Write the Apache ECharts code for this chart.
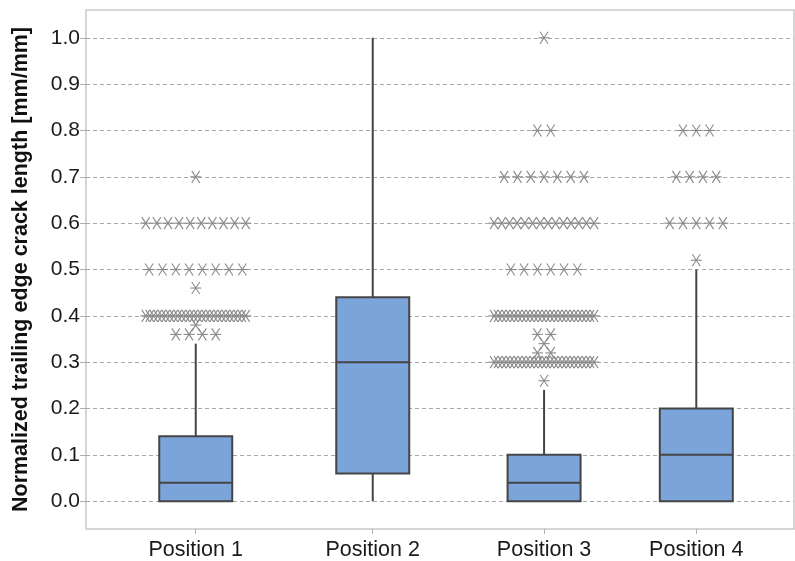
<!DOCTYPE html>
<html>
<head>
<meta charset="utf-8">
<script src="https://cdn.jsdelivr.net/npm/echarts@6/dist/echarts.min.js"></script>
<style>
  html, body { margin: 0; padding: 0; background: #ffffff; }
  #chart { width: 795px; height: 561px; }
</style>
</head>
<body>
<div id="chart"></div>
<script>
// ---- data ----
const categories = ['Position 1', 'Position 2', 'Position 3', 'Position 4'];
const whiskerLow  = [0.00, 0.00, 0.00, 0.00];
const quartile1   = [0.00, 0.06, 0.00, 0.00];
const medians     = [0.04, 0.30, 0.04, 0.10];
const quartile3   = [0.14, 0.44, 0.10, 0.20];
const whiskerHigh = [0.34, 1.00, 0.24, 0.50];

// outliers per position: [value, number of observations at that value]
const outliers1 = [[0.70, 1], [0.60, 10], [0.50, 8], [0.46, 1], [0.40, 26], [0.38, 1], [0.36, 4]];
const outliers2 = [];
const outliers3 = [[1.00, 1], [0.80, 2], [0.70, 7], [0.60, 14], [0.50, 6], [0.40, 26],
                   [0.36, 2], [0.34, 1], [0.32, 2], [0.30, 26], [0.26, 1]];
const outliers4 = [[0.80, 3], [0.70, 4], [0.60, 5], [0.52, 1]];

const yTicks = [0.0, 0.1, 0.2, 0.3, 0.4, 0.5, 0.6, 0.7, 0.8, 0.9, 1.0];

// ---- layout ----
const SLOT_X = [15.5, 40.5, 64.7, 86.2];   // centre of each position on a 0..100 x scale
const BOX_W = 73;                          // box width, px
const STAR_STEP = 13.3;                    // widest spacing between repeated outliers, px
const STAR_SPAN = 100;                     // widest spread of one outlier row, px
const EDGE = '#454545';
const STAR = '#8a8a8a';
const FONT = 'Liberation Sans, Arial, sans-serif';

const boxRows = categories.map((c, i) =>
  [SLOT_X[i], whiskerLow[i], quartile1[i], medians[i], quartile3[i], whiskerHigh[i]]);

const outlierRows = [];
[outliers1, outliers2, outliers3, outliers4].forEach((list, i) => {
  list.forEach(([v, n]) => {
    for (let k = 0; k < n; k++) outlierRows.push([SLOT_X[i], v, k, n]);
  });
});

function nearestSlot(v) {
  let best = 0;
  SLOT_X.forEach((s, i) => { if (Math.abs(s - v) < Math.abs(SLOT_X[best] - v)) best = i; });
  return best;
}

function renderBox(params, api) {
  const x = api.value(0);
  const lo = api.coord([x, api.value(1)]);
  const q1 = api.coord([x, api.value(2)]);
  const md = api.coord([x, api.value(3)]);
  const q3 = api.coord([x, api.value(4)]);
  const hi = api.coord([x, api.value(5)]);
  const cx = lo[0];
  const h = BOX_W / 2;
  const ls = { stroke: EDGE, lineWidth: 2 };
  return {
    type: 'group',
    children: [
      { type: 'line', shape: { x1: cx, y1: q3[1], x2: cx, y2: hi[1] }, style: ls },
      { type: 'line', shape: { x1: cx, y1: q1[1], x2: cx, y2: lo[1] }, style: ls },
      { type: 'rect', shape: { x: cx - h, y: q3[1], width: BOX_W, height: q1[1] - q3[1] },
        style: { fill: '#7ba5da', stroke: EDGE, lineWidth: 2 } },
      { type: 'line', shape: { x1: cx - h, y1: md[1], x2: cx + h, y2: md[1] }, style: ls }
    ]
  };
}

function renderStar(params, api) {
  const p = api.coord([api.value(0), api.value(1)]);
  const k = api.value(2), n = api.value(3);
  const step = n > 1 ? Math.min(STAR_STEP, STAR_SPAN / (n - 1)) : 0;
  const cx = p[0] + (k - (n - 1) / 2) * step;
  const cy = p[1];
  const st = { stroke: STAR, lineWidth: 1.1 };
  return {
    type: 'group',
    children: [
      { type: 'line', shape: { x1: cx - 4, y1: cy - 6, x2: cx + 4, y2: cy + 6 }, style: st },
      { type: 'line', shape: { x1: cx - 4, y1: cy + 6, x2: cx + 4, y2: cy - 6 }, style: st },
      { type: 'line', shape: { x1: cx - 5.5, y1: cy, x2: cx + 5.5, y2: cy }, style: st }
    ]
  };
}

const chart = echarts.init(document.getElementById('chart'), null, { renderer: 'canvas' });
chart.setOption({
  animation: false,
  backgroundColor: '#ffffff',
  grid: {
    left: 86, right: 1, top: 10, bottom: 31,
    show: true, borderColor: '#c9c9c9', borderWidth: 1.5, backgroundColor: 'transparent'
  },
  xAxis: {
    type: 'value', min: 0, max: 100,
    axisLine: { show: false, onZero: false },
    splitLine: { show: false },
    axisTick: { show: true, customValues: SLOT_X, length: 5, lineStyle: { color: '#b0b0b0' } },
    axisLabel: {
      customValues: SLOT_X,
      formatter: v => categories[nearestSlot(v)],
      fontSize: 21.5, margin: 10, color: '#1a1a1a', fontFamily: FONT
    }
  },
  yAxis: {
    type: 'value', min: -0.06, max: 1.06,
    name: 'Normalized trailing edge crack length [mm/mm]',
    nameLocation: 'middle', nameGap: 54,
    nameTextStyle: { fontFamily: FONT, fontWeight: 'bold', fontSize: 21.5, color: '#111111' },
    axisLine: { show: false },
    axisTick: { show: true, customValues: yTicks, length: 6, lineStyle: { color: '#b0b0b0' } },
    axisLabel: {
      customValues: yTicks,
      formatter: v => v.toFixed(1),
      fontSize: 21, margin: 6, color: '#1a1a1a', fontFamily: FONT
    },
    splitLine: { show: true, lineStyle: { color: '#a8a8a8', width: 1, type: [4, 3] } }
  },
  series: [
    {
      type: 'custom', name: 'box', clip: false,
      data: boxRows, encode: { x: 0, y: [1, 2, 3, 4, 5] },
      renderItem: renderBox, z: 3
    },
    {
      type: 'custom', name: 'outliers', clip: false,
      data: outlierRows, encode: { x: 0, y: 1 },
      renderItem: renderStar, z: 4
    }
  ]
});
</script>
</body>
</html>
